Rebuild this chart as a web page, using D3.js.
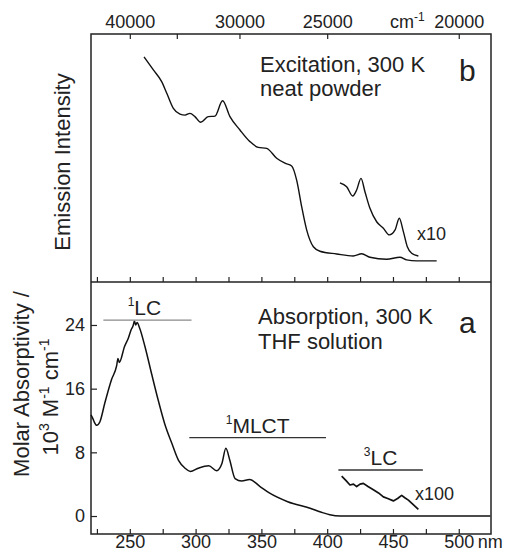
<!DOCTYPE html>
<html>
<head>
<meta charset="utf-8">
<script src="https://cdn.jsdelivr.net/npm/d3@7"></script>
<style>
body{margin:0;background:#fff}
svg{display:block;font-family:"Liberation Sans",Arial,Helvetica,sans-serif;fill:#222}
</style>
</head>
<body>
<svg id="chart" width="509" height="552"></svg>
<script>
// panel a: absorption in THF, 10^3 M^-1 cm^-1 vs nm
const absNm  = [220.5,222,223,224.8,227.3,231,236,240,241,242,246,249,251,252.5,253.5,254.5,255.5,257.5,261.5,266.5,271.5,276.5,282,287,292,296,302,310,316,320,323,326,330,335,341,349,356,370,387,395,402,410,524]
const absVal = [12.7,12.2,11.8,11.4,11.85,14.2,17.1,18.9,19.8,19.3,21.3,22.4,23.4,23.9,24.5,24.0,24.3,23.6,21.3,17.9,14.6,11.6,9.1,7.0,6.0,5.6,6.0,6.3,5.7,6.6,8.5,7.0,4.7,4.4,4.6,3.7,2.9,1.8,0.97,0.5,0.15,0,0]

// 3LC tail, scaled x100
const tripNm  = [411,414,417.3,420,422.4,425,427.5,431,435.1,439,442.7,446,450.3,453.5,456.6,459,461.7,465,469.3]
const tripVal = [5.0,4.5,3.9,4.0,3.7,4.0,4.1,3.7,3.3,2.9,2.4,2.2,1.9,2.2,2.6,2.3,2.0,1.5,0.84]

// panel b: excitation, neat powder (arb. units)
const excNm  = [260.8,267.9,274.2,278.1,283.1,288.1,292,295.7,299.5,303.8,309.6,314.7,320.5,326.1,333.7,341.3,347.6,354,361.6,367.9,373,376.8,380.6,384.4,389.5,394.5,407.2,419.8,426.2,432.5,445.2,455.3,460.4,468,483.2]
const excVal = [90.8,85.5,80.8,76.1,70.0,67.7,67.3,68.0,66.7,64.4,66.7,66.9,73.1,66.7,61.3,56.6,54.3,53.9,49.9,47.9,46.8,41.1,30.4,21.0,14.2,12.4,11.3,10.5,11.4,10.0,9.2,10.0,8.9,8.5,8.5]

// same, scaled x10
const exc10Nm  = [409.7,414.8,419.4,422.4,425.7,428.7,432.5,437.6,442.7,447.2,451.6,454.8,457.9,460.9,464.2,469.3]
const exc10Val = [40.0,38.4,34.7,37.1,41.8,36.4,29.7,24.3,21.7,19.0,21.0,25.7,20.3,14.2,11.6,10.5]

const nmTicks   = [225,250,275,300,325,350,375,400,425,450,475,500]
const nmLabels  = [250,300,350,400,450,500]
const wnTicks   = [40000,35000,30000,25000,20000]
const wnLabels  = [40000,30000,25000,20000]
const absTicks  = [0,8,16,24]

const bandNames  = ["LC","MLCT","LC"]
const bandSups   = ["1","1","3"]
const bandFrom   = [229.9,295.2,408.5]
const bandTo     = [296.9,399.1,472.7]
const bandLevel  = [24.6,9.84,5.78]

const svg = d3.select("#chart")
const L = 91, R = 491, T = 34, MID = 282, B = 534

const x = d3.scaleLinear().domain([220.5,524.5]).range([L,R])
const ya = d3.scaleLinear().domain([-2.26,29.4]).range([B,MID])
const yb = d3.scaleLinear().domain([0,100]).range([MID,T])

const line = (xs, ys, yScale, curve) => d3.line()
    .x((d,i) => x(xs[i]))
    .y((d,i) => yScale(ys[i]))
    .curve(curve)(xs)

//frames
svg.append("rect").attr("x",L).attr("y",T).attr("width",R-L).attr("height",B-T)
    .attr("fill","none").attr("stroke","#222").attr("stroke-width",1.5)
svg.append("line").attr("x1",L).attr("x2",R).attr("y1",MID).attr("y2",MID)
    .attr("stroke","#222").attr("stroke-width",1.5)

const styleAxis = g => {
    g.select(".domain").remove()
    g.selectAll(".tick line").attr("stroke","#222").attr("stroke-width",1.2)
    g.selectAll(".tick text").attr("fill","#222").attr("font-size",18)
        .attr("font-family","Liberation Sans, Arial, sans-serif")
}

//bottom nm axis
svg.append("g").attr("transform",`translate(0,${B})`)
    .call(d3.axisBottom(x).tickValues(nmTicks).tickSize(-5).tickPadding(1)
        .tickFormat(d => nmLabels.includes(d) ? d : ""))
    .call(styleAxis)
svg.append("text").attr("x",x(500)+19).attr("y",548).attr("font-size",18).text("nm")

//ticks on the divider, pointing into panel b
svg.append("g").attr("transform",`translate(0,${MID})`)
    .call(d3.axisBottom(x).tickValues(nmTicks).tickSize(-5).tickFormat(""))
    .call(styleAxis)

//top wavenumber axis
svg.append("g").attr("transform",`translate(0,${T})`)
    .call(d3.axisTop(x).tickValues(wnTicks.map(w => 1e7/w)).tickSize(-5).tickPadding(6)
        .tickFormat(d => { const w = Math.round(1e7/d); return wnLabels.includes(w) ? w : "" }))
    .call(styleAxis)
const cm = svg.append("text").attr("x",390).attr("y",28).attr("font-size",18)
cm.append("tspan").text("cm")
cm.append("tspan").attr("font-size",12).attr("dy",-7).text("-1")

//left axis panel a
svg.append("g").attr("transform",`translate(${L},0)`)
    .call(d3.axisLeft(ya).tickValues(absTicks).tickSize(-6).tickPadding(6))
    .call(styleAxis)

//axis titles
svg.append("text").attr("transform","translate(70,162) rotate(-90)")
    .attr("text-anchor","middle").attr("font-size",22).text("Emission Intensity")
svg.append("text").attr("transform","translate(29,384) rotate(-90)")
    .attr("text-anchor","middle").attr("font-size",22).text("Molar Absorptivity /")
const unit = svg.append("text").attr("transform","translate(58,397) rotate(-90)")
    .attr("text-anchor","middle").attr("font-size",22)
unit.append("tspan").text("10")
unit.append("tspan").attr("font-size",14).attr("dy",-9).text("3")
unit.append("tspan").attr("dy",9).text(" M")
unit.append("tspan").attr("font-size",14).attr("dy",-9).text("-1")
unit.append("tspan").attr("dy",9).text(" cm")
unit.append("tspan").attr("font-size",14).attr("dy",-9).text("-1")

//curves
const drawCurve = (d, w) => svg.append("path").attr("d",d).attr("fill","none")
    .attr("stroke","#111").attr("stroke-width",w).attr("stroke-linejoin","round")

drawCurve(line(absNm, absVal, ya, d3.curveMonotoneX), 1.5)
drawCurve(line(tripNm, tripVal, ya, d3.curveLinear), 1.7)
drawCurve(line(excNm, excVal, yb, d3.curveMonotoneX), 1.4)
drawCurve(line(exc10Nm, exc10Val, yb, d3.curveMonotoneX), 1.4)

//band bars and labels
bandNames.forEach((n,i) => {
    const y0 = ya(bandLevel[i])
    svg.append("line").attr("x1",x(bandFrom[i])).attr("x2",x(bandTo[i]))
        .attr("y1",y0).attr("y2",y0)
        .attr("stroke", i == 0 ? "#8a8a8a" : "#333").attr("stroke-width",1.3)
    const t = svg.append("text").attr("x",(x(bandFrom[i])+x(bandTo[i]))/2 + (i==0 ? -3 : 0))
        .attr("y",y0-5).attr("text-anchor","middle").attr("font-size",21)
    t.append("tspan").attr("font-size",12).attr("dy",-9).text(bandSups[i])
    t.append("tspan").attr("dy",9).text(n)
})

//annotations
const note = (tx, ty, s, size) => svg.append("text").attr("x",tx).attr("y",ty)
    .attr("font-size",size).text(s)
note(260,72,"Excitation, 300 K",22)
note(260,96,"neat powder",22)
note(459,81,"b",30)
note(417,240,"x10",18)
note(258,324,"Absorption, 300 K",22)
note(258,349,"THF solution",22)
note(459,333,"a",30)
note(415,500,"x100",18)
</script>
</body>
</html>
